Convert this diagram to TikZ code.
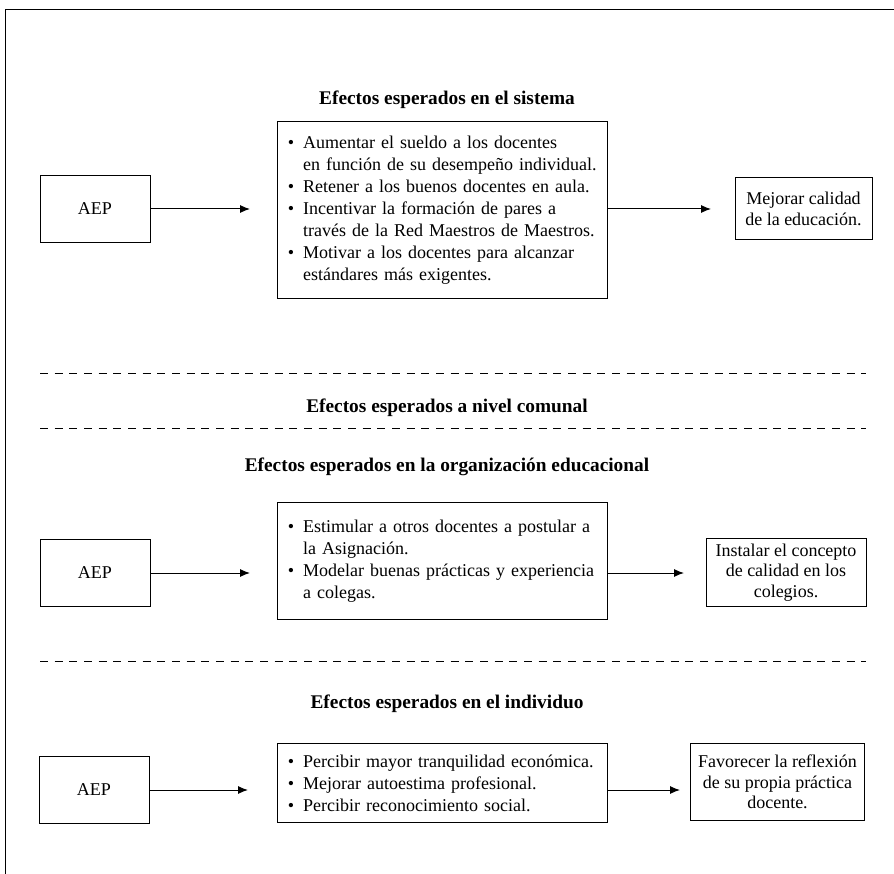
\documentclass[tikz,border=0pt]{standalone}
\usepackage{fontspec}
\setmainfont{Liberation Serif}
\usetikzlibrary{arrows.meta}

\tikzset{every picture/.style={line width=0.75pt}}
\newcommand{\vin}{\makebox[11.5pt][l]{\textbullet}}
\newcommand{\sgr}{\hspace*{11.5pt}}

\begin{document}
\begin{tikzpicture}[x=0.75pt,y=0.75pt,yscale=-1,xscale=1,
	caja/.style={draw, font=\fontsize{13.5}{16.5}\selectfont, inner sep=0pt},
	aep/.style={caja, minimum width=82.5pt, minimum height=50pt},
	lista/.style={caja, align=left, inner xsep=8pt, text width=232pt},
	meta/.style={caja, align=center, font=\fontsize{13.5}{15.5}\selectfont},
	titulo/.style={font=\fontsize{14.5}{17}\selectfont\bfseries},
	flecha/.style={-{Latex[length=7.5pt,width=6pt]}},
	separador/.style={dash pattern=on 6pt off 5pt}]
	\useasboundingbox (0,0) rectangle (894,874);

	%Frame
	\draw [line width=1.3pt] (894,9.5) -- (5.5,9.5) -- (5.5,874) ;

	% Text Node
	\node [titulo] (tit1) at (447,100) {Efectos esperados en el sistema};
	\node [aep] (aep1) at (95,209) {AEP};
	\node [lista, minimum height=132pt] (lis1) at (442.5,210) {\vin Aumentar el sueldo a los docentes\\ \sgr en función de su desempeño individual.\\ \vin Retener a los buenos docentes en aula.\\ \vin Incentivar la formación de pares a\\ \sgr través de la Red Maestros de Maestros.\\ \vin Motivar a los docentes para alcanzar\\ \sgr estándares más exigentes.};
	\node [meta, minimum width=102.75pt, minimum height=46.5pt] (met1) at (803.5,209) {Mejorar calidad\\ de la educación.};
	\coordinate (f1a) at (250,209);
	\coordinate (f1b) at (711,209);
	%Straight Lines
	\draw [flecha] (aep1.east) -- (f1a) ;
	\draw [flecha] (lis1.east |- f1b) -- (f1b) ;

	%Dashed Lines
	\draw [separador] (40,373) -- (866,373) ;
	\node [titulo] (tit2) at (447,408) {Efectos esperados a nivel comunal};
	\draw [separador] (40,428) -- (866,428) ;

	% Text Node
	\node [titulo] (tit3) at (447,467) {Efectos esperados en la organización educacional};
	\node [aep] (aep2) at (95,573) {AEP};
	\node [lista, minimum height=88pt] (lis2) at (442.5,561) {\vin Estimular a otros docentes a postular a\\ \sgr la Asignación.\\ \vin Modelar buenas prácticas y experiencia\\ \sgr a colegas.};
	\node [meta, minimum width=120pt, minimum height=51pt] (met2) at (786,572.5) {Instalar el concepto\\ de calidad en los\\ colegios.};
	\coordinate (f2a) at (250,573);
	\coordinate (f2b) at (684,573);
	%Straight Lines
	\draw [flecha] (aep2.east) -- (f2a) ;
	\draw [flecha] (lis2.east |- f2b) -- (f2b) ;

	%Dashed Lines
	\draw [separador] (40,661) -- (866,661) ;

	% Text Node
	\node [titulo] (tit4) at (447,704) {Efectos esperados en el individuo};
	\node [aep] (aep3) at (94,790) {AEP};
	\node [lista, minimum height=59.5pt] (lis3) at (442.5,783) {\vin Percibir mayor tranquilidad económica.\\ \vin Mejorar autoestima profesional.\\ \vin Percibir reconocimiento social.};
	\node [meta, minimum width=131pt, minimum height=58pt] (met3) at (777.5,782) {Favorecer la reflexión\\ de su propia práctica\\ docente.};
	\coordinate (f3a) at (248,790);
	\coordinate (f3b) at (680,790);
	%Straight Lines
	\draw [flecha] (aep3.east) -- (f3a) ;
	\draw [flecha] (lis3.east |- f3b) -- (f3b) ;

\end{tikzpicture}
\end{document}
